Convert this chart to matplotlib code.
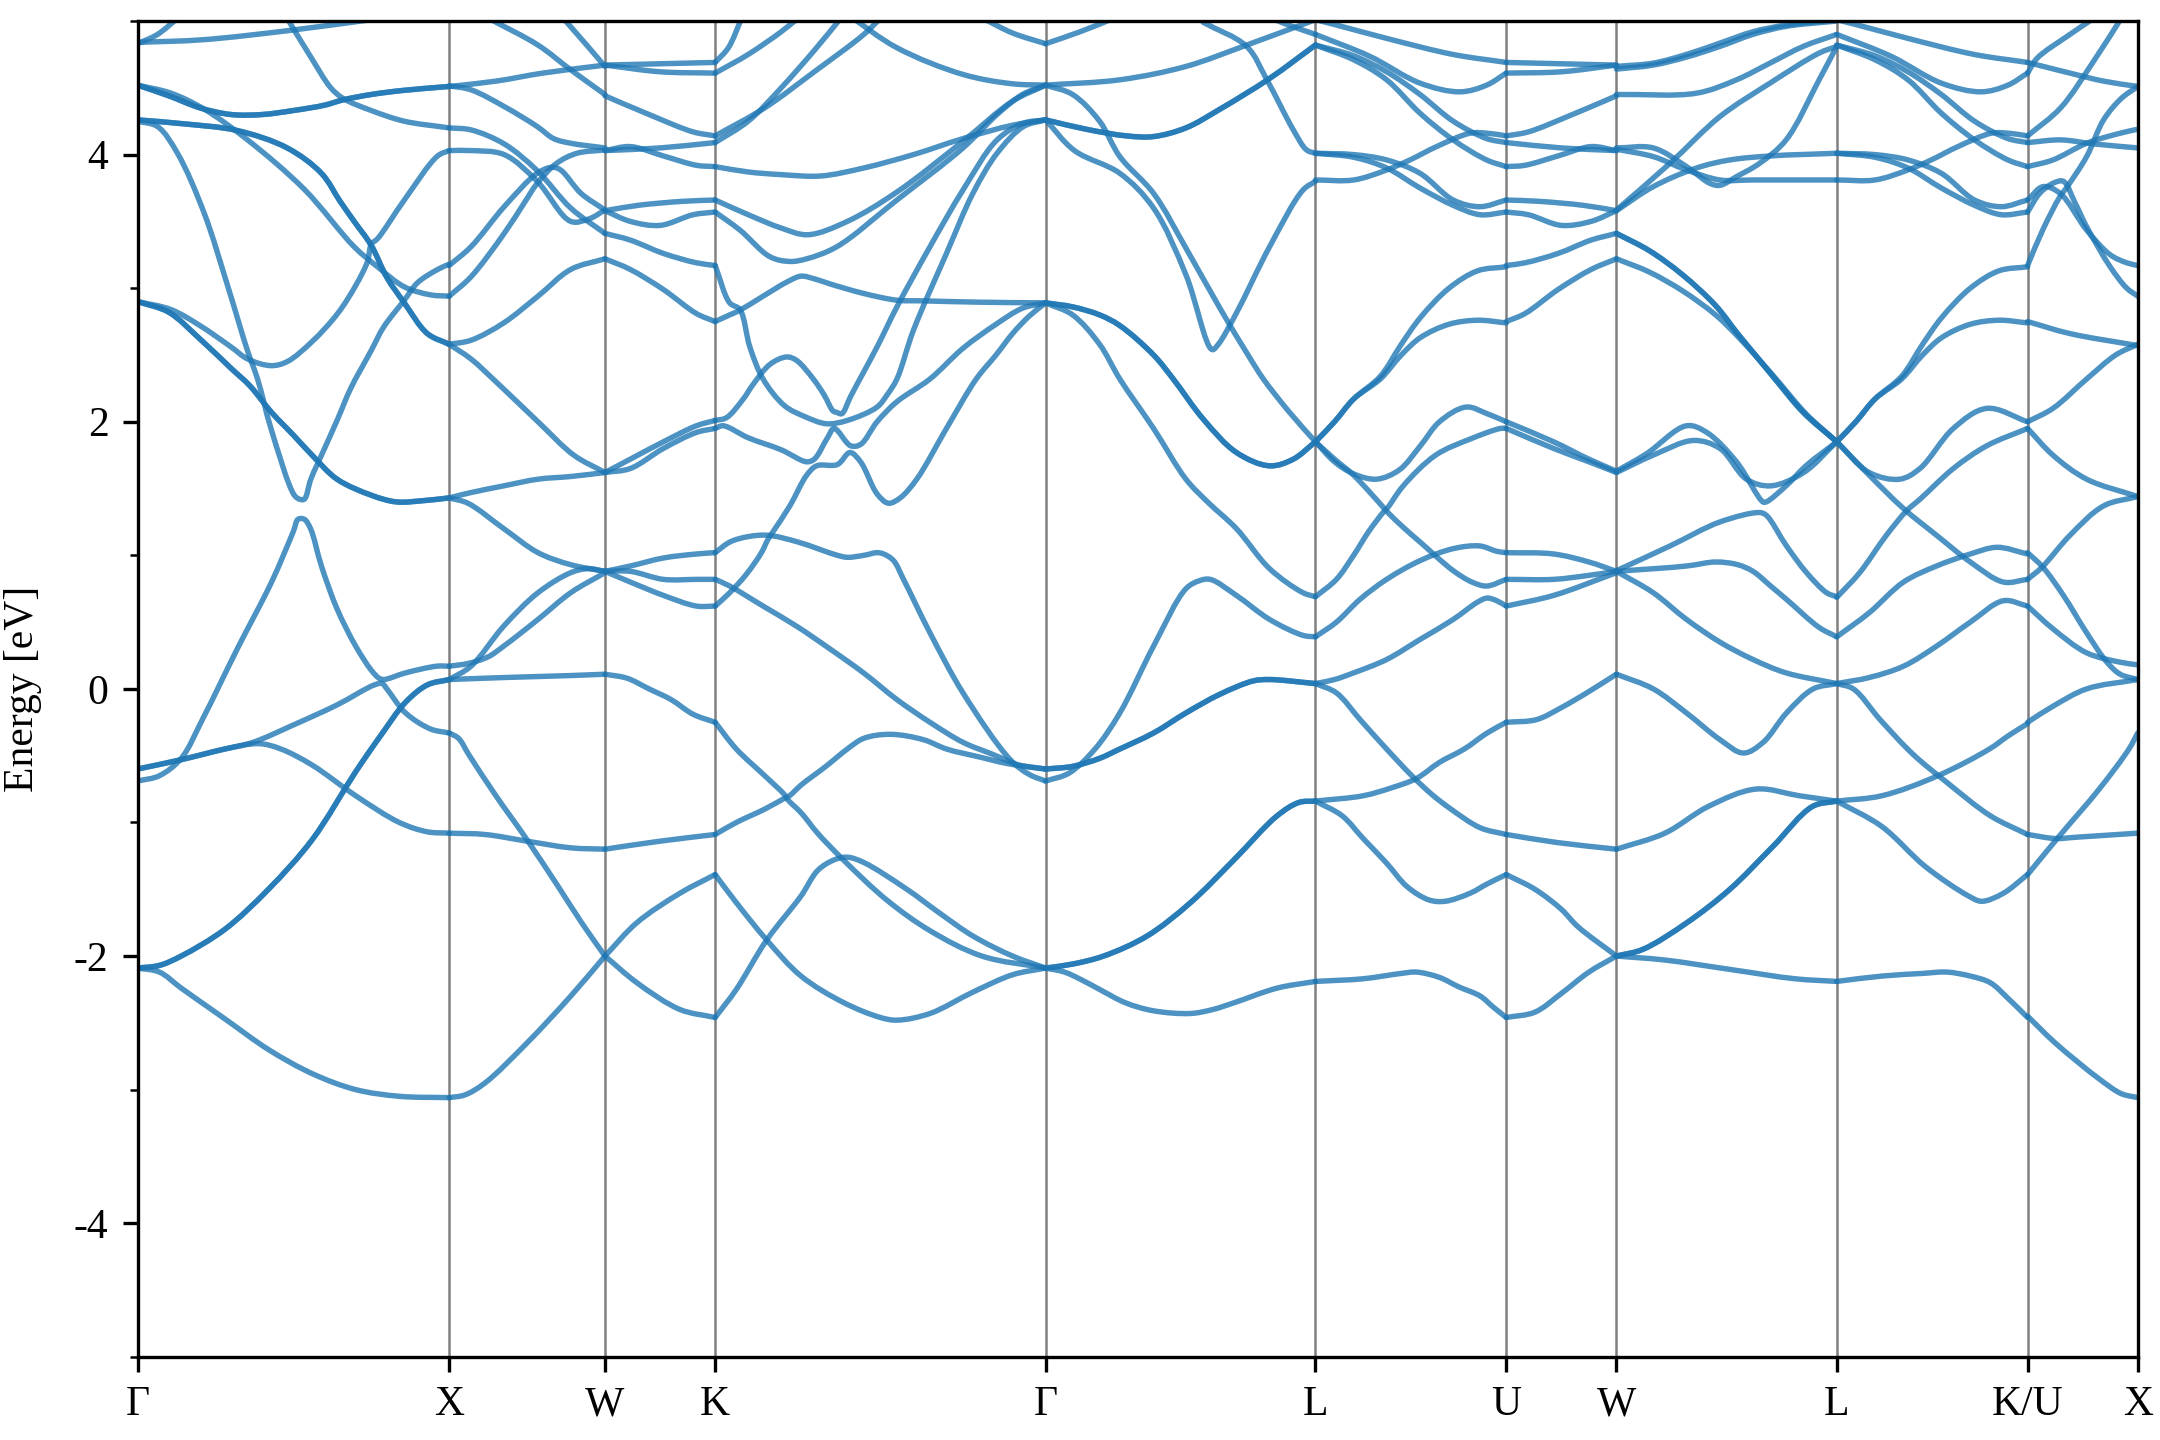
import math
import matplotlib
matplotlib.use('Agg')
import matplotlib.pyplot as plt
from matplotlib.path import Path
from matplotlib.patches import PathPatch
from matplotlib.ticker import MultipleLocator

# high-symmetry path (cumulative k-distance, 2pi/a units) and labels
k_labels = ['Γ', 'X', 'W', 'K', 'Γ', 'L', 'U', 'W', 'L', 'K/U', 'X']
k_ticks = [0.0, 1.0, 1.5, 1.8536, 2.9142, 3.7802, 4.3926, 4.7462, 5.4533, 6.0657, 6.4193]

# Each segment: list of (degeneracy, [(fraction along segment, energy eV), ...])
GX = [
    (1, [(0,-2.09),(0.07,-2.12),(0.14,-2.24),(0.28,-2.47),(0.42,-2.70),(0.56,-2.88),(0.70,-3.00),(0.84,-3.05),(1,-3.06)]),
    (2, [(0,-2.09),(0.07,-2.07),(0.14,-2.00),(0.28,-1.80),(0.42,-1.50),(0.56,-1.13),(0.70,-0.62),(0.78,-0.35),(0.86,-0.10),(0.93,0.03),(1,0.07)]),
    (1, [(0,-0.69),(0.07,-0.65),(0.14,-0.52),(0.21,-0.22),(0.32,0.30),(0.43,0.80),(0.50,1.18),(0.515,1.27),(0.535,1.27),(0.555,1.20),(0.59,0.92),(0.64,0.60),(0.70,0.32),(0.75,0.14),(0.775,0.08),(0.79,0.07),(0.86,0.12),(0.96,0.17),(1,0.17)]),
    (1, [(0,-0.60),(0.14,-0.53),(0.28,-0.45),(0.37,-0.40),(0.5,-0.27),(0.64,-0.12),(0.76,0.03),(0.785,0.04),(0.80,0.0),(0.86,-0.18),(0.94,-0.30),(1,-0.33)]),
    (1, [(0,-0.60),(0.14,-0.53),(0.28,-0.45),(0.39,-0.41),(0.46,-0.45),(0.56,-0.57),(0.70,-0.80),(0.84,-1.00),(0.93,-1.07),(1,-1.08)]),
    (2, [(0,2.90),(0.1,2.82),(0.2,2.62),(0.3,2.40),(0.36,2.27),(0.43,2.07),(0.50,1.90),(0.56,1.75),(0.64,1.57),(0.75,1.45),(0.83,1.40),(0.92,1.41),(1,1.43)]),
    (1, [(0,2.90),(0.107,2.84),(0.2,2.72),(0.30,2.56),(0.353,2.47),(0.428,2.42),(0.48,2.45),(0.56,2.60),(0.642,2.81),(0.70,3.02),(0.738,3.20),(0.75,3.33),(0.77,3.37),(0.856,3.66),(0.963,3.99),(1,4.03)]),
    (2, [(0,4.26),(0.15,4.23),(0.32,4.18),(0.48,4.05),(0.59,3.86),(0.65,3.65),(0.695,3.50),(0.75,3.32),(0.80,3.08),(0.856,2.89),(0.93,2.66),(1,2.58)]),
    (1, [(0,4.25),(0.064,4.21),(0.128,4.01),(0.214,3.56),(0.29,3.01),(0.353,2.53),(0.385,2.32),(0.428,1.95),(0.503,1.45),(0.52,1.42),(0.535,1.42),(0.556,1.57),(0.60,1.80),(0.642,2.02),(0.684,2.25),(0.749,2.53),(0.79,2.71),(0.856,2.91),(0.898,3.04),(0.963,3.14),(1,3.18)]),
    (1, [(0,4.52),(0.107,4.46),(0.214,4.34),(0.353,4.11),(0.535,3.74),(0.695,3.31),(0.77,3.16),(0.856,3.01),(0.94,2.95),(1,2.94)]),
    (2, [(0,4.52),(0.1,4.44),(0.2,4.35),(0.3,4.30),(0.4,4.30),(0.5,4.33),(0.60,4.37),(0.66,4.41),(0.75,4.45),(0.85,4.48),(1,4.51)]),
    (1, [(0,4.84),(0.21,4.86),(0.49,4.93),(0.75,5.01),(1,5.08)]),
    (1, [(0,4.83),(0.064,4.90),(0.128,5.02)]),
    (1, [(0.48,5.02),(0.556,4.73),(0.62,4.50),(0.66,4.42),(0.75,4.33),(0.856,4.25),(1,4.20)]),
]

XW = [
    (1, [(0,-3.06),(0.1,-3.04),(0.23,-2.95),(0.5,-2.65),(0.78,-2.30),(1,-2.0)]),
    (1, [(0,-0.33),(0.06,-0.37),(0.13,-0.50),(0.3,-0.80),(0.5,-1.13),(0.7,-1.48),(0.85,-1.75),(1,-2.0)]),
    (1, [(0,-1.08),(0.23,-1.09),(0.5,-1.14),(0.78,-1.19),(1,-1.20)]),
    (1, [(0,0.07),(0.35,0.085),(0.78,0.10),(1,0.11)]),
    (1, [(0,0.07),(0.14,0.17),(0.35,0.47),(0.57,0.72),(0.78,0.87),(0.89,0.90),(1,0.88)]),
    (1, [(0,0.17),(0.12,0.19),(0.25,0.24),(0.35,0.32),(0.57,0.52),(0.78,0.72),(1,0.87)]),
    (1, [(0,1.43),(0.14,1.47),(0.35,1.52),(0.57,1.57),(0.78,1.59),(1,1.62)]),
    (1, [(0,1.43),(0.12,1.39),(0.35,1.20),(0.57,1.02),(0.78,0.93),(1,0.88)]),
    (1, [(0,2.58),(0.14,2.47),(0.3,2.30),(0.57,2.00),(0.8,1.75),(1,1.62)]),
    (1, [(0,2.58),(0.14,2.61),(0.35,2.74),(0.57,2.94),(0.78,3.14),(1,3.22)]),
    (1, [(0,2.94),(0.14,3.085),(0.353,3.41),(0.48,3.635),(0.565,3.785),(0.69,3.935),(0.82,4.01),(1,4.035)]),
    (1, [(0,3.17),(0.14,3.31),(0.353,3.61),(0.565,3.86),(0.66,3.905),(0.715,3.885),(0.846,3.71),(1,3.585)]),
    (1, [(0,4.03),(0.14,4.03),(0.353,4.0),(0.565,3.80),(0.78,3.50),(0.9,3.52),(1,3.585)]),
    (1, [(0,4.20),(0.14,4.185),(0.353,4.08),(0.565,3.88),(0.78,3.60),(1,3.41)]),
    (1, [(0,4.515),(0.14,4.485),(0.353,4.36),(0.565,4.21),(0.67,4.12),(0.78,4.085),(1,4.05)]),
    (1, [(0,4.51),(0.3,4.55),(0.6,4.61),(1,4.67)]),
    (1, [(0.27,5.01),(0.57,4.82),(0.78,4.635),(1,4.45)]),
    (1, [(0.74,5.01),(0.89,4.81),(1,4.66)]),
]

WK = [
    (1, [(0,-2.0),(0.29,-1.75),(0.68,-1.53),(1,-1.39)]),
    (1, [(0,-2.0),(0.29,-2.20),(0.68,-2.40),(1,-2.46)]),
    (1, [(0,-1.20),(0.5,-1.14),(1,-1.09)]),
    (1, [(0,0.11),(0.2,0.08),(0.4,0.0),(0.6,-0.08),(0.8,-0.19),(1,-0.25)]),
    (1, [(0,0.88),(0.23,0.92),(0.53,0.98),(0.83,1.01),(1,1.02)]),
    (1, [(0,0.88),(0.23,0.88),(0.53,0.82),(0.83,0.82),(1,0.82)]),
    (1, [(0,0.88),(0.23,0.80),(0.53,0.70),(0.83,0.62),(1,0.62)]),
    (1, [(0,1.62),(0.23,1.72),(0.53,1.85),(0.83,1.97),(1,2.01)]),
    (1, [(0,1.62),(0.23,1.65),(0.53,1.80),(0.83,1.92),(1,1.95)]),
    (1, [(0,3.22),(0.23,3.14),(0.53,2.99),(0.83,2.81),(1,2.75)]),
    (1, [(0,3.41),(0.23,3.36),(0.53,3.26),(0.83,3.19),(1,3.17)]),
    (1, [(0,3.58),(0.23,3.50),(0.5,3.47),(0.8,3.55),(1,3.57)]),
    (1, [(0,3.58),(0.3,3.62),(0.7,3.65),(1,3.66)]),
    (1, [(0,4.03),(0.23,4.06),(0.53,3.99),(0.83,3.92),(1,3.91)]),
    (1, [(0,4.03),(0.5,4.05),(1,4.09)]),
    (1, [(0,4.44),(0.4,4.30),(0.8,4.17),(1,4.14)]),
    (1, [(0,4.67),(0.5,4.62),(1,4.61)]),
    (1, [(0,4.67),(0.5,4.68),(1,4.69)]),
]

KG = [
    (1, [(0,-1.39),(0.064,-1.60),(0.156,-1.88),(0.26,-2.15),(0.39,-2.35),(0.5,-2.46),(0.55,-2.48),(0.65,-2.43),(0.78,-2.27),(0.9,-2.14),(1,-2.09)]),
    (1, [(0,-2.46),(0.064,-2.25),(0.156,-1.88),(0.26,-1.55),(0.31,-1.36),(0.36,-1.28),(0.40,-1.26),(0.45,-1.30),(0.58,-1.50),(0.68,-1.68),(0.78,-1.85),(0.9,-2.0),(1,-2.09)]),
    (1, [(0,-1.09),(0.064,-1.0),(0.15,-0.90),(0.209,-0.82),(0.225,-0.80),(0.26,-0.72),(0.335,-0.58),(0.40,-0.45),(0.45,-0.37),(0.53,-0.34),(0.63,-0.38),(0.70,-0.45),(0.80,-0.51),(0.886,-0.56),(1,-0.60)]),
    (1, [(0,-0.25),(0.064,-0.45),(0.15,-0.65),(0.209,-0.79),(0.22,-0.83),(0.261,-0.93),(0.31,-1.08),(0.388,-1.28),(0.519,-1.58),(0.65,-1.81),(0.807,-2.0),(1,-2.09)]),
    (1, [(0,0.82),(0.044,0.77),(0.145,0.62),(0.246,0.47),(0.347,0.30),(0.449,0.12),(0.55,-0.08),(0.65,-0.25),(0.75,-0.40),(0.84,-0.49),(0.92,-0.57),(1,-0.60)]),
    (1, [(0,1.02),(0.045,1.10),(0.10,1.14),(0.16,1.15),(0.25,1.10),(0.37,1.00),(0.40,0.985),(0.45,1.00),(0.49,1.02),(0.51,1.01),(0.54,0.96),(0.57,0.82),(0.65,0.42),(0.75,-0.03),(0.893,-0.53),(0.95,-0.64),(1,-0.69)]),
    (1, [(0,0.62),(0.044,0.72),(0.095,0.86),(0.14,1.02),(0.16,1.12),(0.176,1.18),(0.226,1.37),(0.277,1.60),(0.307,1.67),(0.37,1.68),(0.408,1.77),(0.44,1.70),(0.49,1.46),(0.524,1.39),(0.56,1.43),(0.61,1.57),(0.70,1.95),(0.79,2.32),(0.85,2.50),(0.9,2.66),(0.95,2.79),(1,2.89)]),
    (1, [(0,1.95),(0.024,1.97),(0.1,1.88),(0.2,1.79),(0.277,1.70),(0.30,1.72),(0.34,1.88),(0.36,1.95),(0.41,1.82),(0.44,1.83),(0.49,2.0),(0.55,2.15),(0.65,2.32),(0.75,2.55),(0.85,2.73),(0.93,2.85),(1,2.89)]),
    (1, [(0,2.01),(0.034,2.03),(0.085,2.17),(0.115,2.28),(0.166,2.43),(0.216,2.485),(0.246,2.46),(0.297,2.32),(0.33,2.20),(0.357,2.08),(0.368,2.07),(0.383,2.06),(0.41,2.19),(0.438,2.32),(0.49,2.56),(0.55,2.86),(0.65,3.31),(0.75,3.735),(0.853,4.11),(0.933,4.235),(1,4.26)]),
    (1, [(0,2.75),(0.044,2.80),(0.075,2.835),(0.145,2.94),(0.22,3.05),(0.26,3.09),(0.30,3.07),(0.35,3.03),(0.45,2.96),(0.55,2.91),(0.63,2.905),(0.8,2.895),(1,2.89)]),
    (1, [(0,3.17),(0.044,2.89),(0.075,2.84),(0.105,2.56),(0.145,2.32),(0.21,2.12),(0.27,2.04),(0.337,1.985),(0.40,2.01),(0.49,2.11),(0.52,2.20),(0.55,2.32),(0.60,2.685),(0.70,3.26),(0.78,3.71),(0.853,4.01),(0.933,4.21),(1,4.26)]),
    (1, [(0,3.57),(0.075,3.435),(0.166,3.235),(0.226,3.20),(0.277,3.22),(0.368,3.31),(0.55,3.66),(0.75,4.05),(0.853,4.30),(0.93,4.45),(1,4.52)]),
    (1, [(0,3.91),(0.1,3.87),(0.2,3.85),(0.32,3.84),(0.45,3.90),(0.6,4.0),(0.75,4.12),(0.9,4.22),(1,4.26)]),
    (1, [(0,3.66),(0.1,3.55),(0.2,3.45),(0.28,3.40),(0.4,3.50),(0.55,3.72),(0.75,4.10),(0.9,4.40),(1,4.52)]),
    (1, [(0,4.09),(0.1,4.25),(0.2,4.5),(0.3,4.78),(0.38,5.02)]),
    (1, [(0,4.14),(0.15,4.35),(0.3,4.62),(0.45,4.9),(0.5,5.02)]),
    (1, [(0,4.61),(0.1,4.75),(0.2,4.92),(0.25,5.02)]),
    (1, [(0,4.69),(0.04,4.80),(0.08,5.02)]),
    (1, [(0.4,5.05),(0.55,4.80),(0.75,4.60),(0.9,4.53),(1,4.52)]),
    (1, [(0.81,5.02),(0.9,4.91),(1,4.83)]),
]

GL = [
    (1, [(0,-2.09),(0.07,-2.12),(0.135,-2.18),(0.2,-2.25),(0.296,-2.35),(0.4,-2.41),(0.537,-2.43),(0.62,-2.40),(0.698,-2.35),(0.858,-2.24),(1,-2.19)]),
    (2, [(0,-2.09),(0.1,-2.06),(0.215,-2.0),(0.376,-1.85),(0.537,-1.60),(0.698,-1.28),(0.858,-0.95),(0.939,-0.85),(1,-0.84)]),
    (2, [(0,-0.60),(0.1,-0.58),(0.2,-0.52),(0.275,-0.45),(0.40,-0.33),(0.52,-0.18),(0.646,-0.04),(0.77,0.06),(0.83,0.07),(1,0.04)]),
    (1, [(0,-0.69),(0.087,-0.63),(0.183,-0.45),(0.275,-0.18),(0.40,0.32),(0.52,0.75),(0.57,0.81),(0.61,0.82),(0.707,0.70),(0.83,0.52),(0.955,0.40),(1,0.39)]),
    (2, [(0,2.89),(0.1,2.86),(0.2,2.80),(0.275,2.72),(0.40,2.50),(0.473,2.32),(0.584,2.02),(0.707,1.77),(0.83,1.67),(0.918,1.72),(1,1.85)]),
    (1, [(0,2.89),(0.1,2.80),(0.2,2.58),(0.275,2.32),(0.40,1.95),(0.52,1.57),(0.60,1.40),(0.707,1.20),(0.83,0.90),(0.954,0.72),(1,0.69)]),
    (2, [(0,4.26),(0.15,4.19),(0.3,4.14),(0.4,4.135),(0.52,4.20),(0.646,4.34),(0.83,4.57),(1,4.82)]),
    (1, [(0,4.26),(0.107,4.03),(0.275,3.86),(0.40,3.60),(0.52,3.10),(0.617,2.54),(0.64,2.58),(0.706,2.81),(0.83,3.31),(0.954,3.735),(1,3.80)]),
    (1, [(0,4.52),(0.1,4.45),(0.2,4.25),(0.275,3.985),(0.40,3.71),(0.52,3.30),(0.646,2.85),(0.75,2.50),(0.807,2.32),(0.9,2.08),(1,1.85)]),
    (1, [(0,4.52),(0.275,4.56),(0.52,4.66),(0.745,4.82),(1,5.01)]),
    (1, [(0.584,4.99),(0.745,4.81),(0.82,4.56),(0.918,4.185),(0.967,4.035),(1,4.01)]),
    (1, [(0.8,5.05),(0.9,4.97),(1,4.90)]),
    (1, [(0,4.83),(0.128,4.92),(0.24,5.01),(0.3,5.06)]),
]

LU = [
    (1, [(0,-2.19),(0.25,-2.17),(0.45,-2.13),(0.53,-2.12),(0.65,-2.16),(0.75,-2.23),(0.864,-2.30),(0.93,-2.38),(1,-2.46)]),
    (1, [(0,-0.84),(0.14,-0.95),(0.25,-1.12),(0.37,-1.30),(0.48,-1.48),(0.595,-1.58),(0.68,-1.59),(0.81,-1.53),(0.9,-1.46),(1,-1.39)]),
    (1, [(0,-0.84),(0.25,-0.80),(0.40,-0.74),(0.53,-0.67),(0.65,-0.55),(0.78,-0.45),(0.9,-0.33),(1,-0.25)]),
    (1, [(0,0.04),(0.11,-0.03),(0.234,-0.23),(0.36,-0.43),(0.505,-0.65),(0.61,-0.79),(0.71,-0.90),(0.864,-1.04),(1,-1.09)]),
    (1, [(0,0.04),(0.1,0.07),(0.2,0.12),(0.373,0.22),(0.548,0.37),(0.722,0.52),(0.85,0.65),(0.90,0.68),(0.95,0.66),(1,0.62)]),
    (1, [(0,0.39),(0.11,0.50),(0.233,0.67),(0.373,0.82),(0.548,0.96),(0.722,1.05),(0.862,1.07),(0.95,1.03),(1,1.02)]),
    (1, [(0,0.69),(0.11,0.82),(0.2,1.0),(0.28,1.18),(0.36,1.33),(0.375,1.35),(0.46,1.52),(0.63,1.75),(0.81,1.87),(0.97,1.95),(1,1.95)]),
    (1, [(0,1.85),(0.1,1.72),(0.2,1.60),(0.355,1.36),(0.373,1.33),(0.46,1.21),(0.548,1.10),(0.722,0.885),(0.82,0.80),(0.897,0.77),(1,0.82)]),
    (1, [(0,1.85),(0.1,1.70),(0.2,1.61),(0.32,1.57),(0.44,1.64),(0.55,1.82),(0.65,2.0),(0.79,2.11),(0.9,2.06),(1,2.0)]),
    (1, [(0,1.85),(0.1,2.0),(0.2,2.17),(0.34,2.32),(0.45,2.50),(0.55,2.63),(0.7,2.73),(0.85,2.76),(1,2.74)]),
    (1, [(0,1.85),(0.1,2.0),(0.2,2.17),(0.34,2.34),(0.45,2.58),(0.55,2.78),(0.7,3.0),(0.85,3.13),(1,3.16)]),
    (1, [(0,3.81),(0.2,3.81),(0.373,3.885),(0.495,3.96),(0.635,4.06),(0.81,4.16),(0.9,4.16),(1,4.14)]),
    (1, [(0,4.01),(0.2,4.0),(0.373,3.96),(0.548,3.86),(0.722,3.66),(0.862,3.61),(1,3.66)]),
    (1, [(0,4.01),(0.2,3.98),(0.373,3.90),(0.548,3.75),(0.722,3.62),(0.862,3.55),(1,3.57)]),
    (1, [(0,4.82),(0.2,4.71),(0.373,4.56),(0.548,4.31),(0.722,4.11),(0.897,3.96),(1,3.91)]),
    (1, [(0,4.82),(0.2,4.74),(0.373,4.62),(0.548,4.45),(0.722,4.25),(0.897,4.12),(1,4.09)]),
    (1, [(0,4.90),(0.286,4.735),(0.548,4.535),(0.757,4.47),(0.897,4.52),(1,4.61)]),
    (1, [(0,5.01),(0.11,4.97),(0.373,4.87),(0.72,4.75),(1,4.69)]),
]

UW = [
    (1, [(0,-2.46),(0.26,-2.42),(0.5,-2.28),(0.75,-2.12),(1,-2.0)]),
    (1, [(0,-1.39),(0.26,-1.50),(0.5,-1.65),(0.65,-1.78),(1,-2.0)]),
    (1, [(0,-1.09),(0.46,-1.15),(1,-1.20)]),
    (1, [(0,-0.25),(0.275,-0.23),(0.5,-0.14),(0.73,-0.03),(1,0.11)]),
    (1, [(0,0.62),(0.43,0.70),(1,0.87)]),
    (1, [(0,0.82),(0.43,0.82),(0.75,0.85),(1,0.88)]),
    (1, [(0,1.02),(0.43,1.01),(0.75,0.95),(1,0.88)]),
    (1, [(0,1.95),(0.43,1.80),(0.75,1.70),(1,1.62)]),
    (1, [(0,2.0),(0.43,1.85),(0.75,1.72),(1,1.63)]),
    (1, [(0,2.75),(0.17,2.81),(0.47,2.99),(0.77,3.14),(1,3.22)]),
    (1, [(0,3.17),(0.17,3.19),(0.47,3.26),(0.77,3.36),(1,3.41)]),
    (1, [(0,3.57),(0.2,3.55),(0.5,3.47),(0.77,3.50),(1,3.58)]),
    (1, [(0,3.66),(0.3,3.65),(0.7,3.62),(1,3.58)]),
    (1, [(0,3.91),(0.17,3.92),(0.47,3.99),(0.77,4.06),(1,4.03)]),
    (1, [(0,4.09),(0.5,4.05),(1,4.03)]),
    (1, [(0,4.14),(0.2,4.17),(0.6,4.30),(1,4.44)]),
    (1, [(0,4.61),(0.5,4.62),(1,4.67)]),
    (1, [(0,4.69),(0.5,4.68),(1,4.67)]),
]

WL = [
    (1, [(0,-2.0),(0.22,-2.03),(0.515,-2.10),(0.81,-2.17),(1,-2.19)]),
    (2, [(0,-2.0),(0.12,-1.95),(0.32,-1.75),(0.515,-1.50),(0.71,-1.18),(0.89,-0.88),(1,-0.84)]),
    (1, [(0,-1.20),(0.22,-1.08),(0.417,-0.88),(0.633,-0.75),(0.83,-0.80),(1,-0.84)]),
    (1, [(0,0.11),(0.167,0.0),(0.318,-0.18),(0.47,-0.38),(0.576,-0.48),(0.666,-0.40),(0.772,-0.18),(0.893,0.0),(1,0.04)]),
    (1, [(0,0.88),(0.167,0.72),(0.318,0.52),(0.47,0.35),(0.62,0.22),(0.77,0.12),(1,0.04)]),
    (1, [(0,0.88),(0.318,0.92),(0.45,0.95),(0.55,0.93),(0.62,0.88),(0.70,0.77),(0.772,0.67),(0.92,0.46),(1,0.39)]),
    (1, [(0,0.885),(0.243,1.07),(0.47,1.25),(0.65,1.32),(0.68,1.30),(0.772,1.07),(0.863,0.87),(0.954,0.72),(1,0.69)]),
    (1, [(0,1.63),(0.136,1.76),(0.318,1.97),(0.41,1.92),(0.545,1.70),(0.665,1.40),(0.68,1.40),(0.77,1.52),(0.86,1.67),(1,1.85)]),
    (1, [(0,1.62),(0.167,1.75),(0.35,1.86),(0.47,1.80),(0.59,1.57),(0.70,1.52),(0.85,1.62),(1,1.85)]),
    (1, [(0,4.66),(0.167,4.685),(0.318,4.75),(0.47,4.835),(0.62,4.92),(0.77,4.97),(1,5.01)]),
    (1, [(0,4.64),(0.167,4.67),(0.318,4.73),(0.47,4.81),(0.62,4.90),(0.77,4.96),(1,5.0)]),
    (1, [(0,4.45),(0.364,4.46),(0.545,4.56),(0.697,4.685),(0.848,4.81),(1,4.90)]),
    (1, [(0,3.58),(0.167,3.76),(0.364,3.90),(0.515,3.96),(0.7,3.99),(1,4.01)]),
    (1, [(0,4.05),(0.167,4.05),(0.318,3.91),(0.424,3.785),(0.47,3.77),(0.545,3.835),(0.65,3.935),(0.77,4.11),(0.92,4.56),(1,4.81)]),
    (1, [(0,3.585),(0.243,3.935),(0.47,4.285),(0.697,4.535),(0.92,4.76),(1,4.81)]),
    (1, [(0,4.04),(0.167,3.985),(0.318,3.885),(0.47,3.81),(0.62,3.81),(1,3.81)]),
    (2, [(0,3.41),(0.15,3.28),(0.3,3.10),(0.45,2.87),(0.55,2.66),(0.64,2.48),(0.72,2.32),(0.848,2.07),(1,1.85)]),
    (1, [(0,3.22),(0.15,3.12),(0.3,2.98),(0.45,2.80),(0.55,2.64),(0.65,2.46),(0.73,2.31),(0.86,2.06),(1,1.85)]),
]

LK = [
    (1, [(0,-2.19),(0.236,-2.15),(0.45,-2.13),(0.577,-2.12),(0.7,-2.15),(0.805,-2.20),(0.9,-2.32),(1,-2.46)]),
    (1, [(0,-0.84),(0.236,-1.03),(0.464,-1.33),(0.69,-1.55),(0.76,-1.59),(0.873,-1.53),(1,-1.39)]),
    (1, [(0,-0.84),(0.236,-0.80),(0.53,-0.65),(0.80,-0.45),(0.9,-0.35),(1,-0.26)]),
    (1, [(0,0.04),(0.087,0.0),(0.227,-0.23),(0.40,-0.49),(0.577,-0.70),(0.805,-0.95),(1,-1.09)]),
    (1, [(0,0.04),(0.17,0.085),(0.35,0.17),(0.523,0.32),(0.70,0.50),(0.873,0.66),(1,0.62)]),
    (1, [(0,0.39),(0.17,0.57),(0.35,0.80),(0.523,0.92),(0.70,1.01),(0.84,1.06),(1,1.01)]),
    (1, [(0,0.685),(0.12,0.87),(0.26,1.15),(0.367,1.335),(0.436,1.42),(0.611,1.65),(0.786,1.82),(1,1.95)]),
    (1, [(0,1.85),(0.17,1.60),(0.35,1.35),(0.523,1.15),(0.70,0.95),(0.873,0.80),(1,0.82)]),
    (1, [(0,1.85),(0.17,1.62),(0.33,1.57),(0.436,1.65),(0.611,1.95),(0.786,2.10),(1,2.0)]),
    (1, [(0,1.85),(0.1,2.0),(0.2,2.17),(0.34,2.32),(0.45,2.50),(0.55,2.63),(0.7,2.73),(0.85,2.76),(1,2.74)]),
    (1, [(0,1.85),(0.1,2.0),(0.2,2.17),(0.34,2.34),(0.45,2.58),(0.55,2.78),(0.7,3.0),(0.85,3.13),(1,3.16)]),
    (1, [(0,3.81),(0.2,3.81),(0.373,3.885),(0.495,3.96),(0.635,4.06),(0.81,4.16),(0.9,4.16),(1,4.14)]),
    (1, [(0,4.01),(0.2,4.0),(0.373,3.96),(0.548,3.86),(0.722,3.66),(0.862,3.61),(1,3.66)]),
    (1, [(0,4.01),(0.2,3.98),(0.373,3.90),(0.548,3.75),(0.722,3.62),(0.862,3.55),(1,3.57)]),
    (1, [(0,4.82),(0.2,4.71),(0.373,4.56),(0.548,4.31),(0.722,4.11),(0.897,3.96),(1,3.91)]),
    (1, [(0,4.82),(0.2,4.74),(0.373,4.62),(0.548,4.45),(0.722,4.25),(0.897,4.12),(1,4.09)]),
    (1, [(0,4.90),(0.286,4.735),(0.548,4.535),(0.757,4.47),(0.897,4.52),(1,4.61)]),
    (1, [(0,5.01),(0.11,4.97),(0.373,4.87),(0.72,4.75),(1,4.69)]),
]

UX = [
    (1, [(0,-2.45),(0.25,-2.65),(0.65,-2.92),(0.85,-3.03),(1,-3.06)]),
    (1, [(0,-1.39),(0.29,-1.10),(0.65,-0.75),(0.92,-0.45),(1,-0.33)]),
    (1, [(0,-1.09),(0.25,-1.12),(0.45,-1.11),(1,-1.08)]),
    (1, [(0,-0.25),(0.23,-0.13),(0.536,0.0),(1,0.07)]),
    (1, [(0,0.62),(0.23,0.45),(0.536,0.27),(0.84,0.20),(1,0.18)]),
    (1, [(0,0.82),(0.13,0.91),(0.385,1.15),(0.69,1.37),(1,1.44)]),
    (1, [(0,1.02),(0.14,0.91),(0.325,0.70),(0.536,0.42),(0.72,0.20),(0.84,0.11),(1,0.07)]),
    (1, [(0,1.95),(0.23,1.75),(0.536,1.57),(1,1.44)]),
    (1, [(0,2.0),(0.23,2.10),(0.536,2.32),(0.8,2.50),(1,2.58)]),
    (1, [(0,2.75),(0.385,2.66),(1,2.57)]),
    (1, [(0,3.17),(0.14,3.44),(0.29,3.68),(0.36,3.76),(0.536,3.985),(0.69,4.26),(0.85,4.42),(1,4.51)]),
    (1, [(0,3.57),(0.11,3.71),(0.23,3.785),(0.325,3.80),(0.43,3.64),(0.536,3.46),(0.75,3.16),(0.9,3.0),(1,2.94)]),
    (1, [(0,3.66),(0.14,3.76),(0.295,3.71),(0.536,3.435),(0.75,3.25),(0.9,3.19),(1,3.17)]),
    (1, [(0,3.91),(0.23,3.96),(0.536,4.085),(0.84,4.16),(1,4.19)]),
    (1, [(0,4.09),(0.3,4.11),(0.6,4.08),(1,4.05)]),
    (1, [(0,4.14),(0.3,4.35),(0.6,4.70),(0.85,5.02)]),
    (1, [(0,4.69),(0.385,4.61),(0.69,4.55),(1,4.51)]),
    (1, [(0,4.61),(0.085,4.72),(0.385,4.90),(0.6,5.02)]),
]

segments = [GX, XW, WK, KG, GL, LU, UW, WL, LK, UX]

plt.rcParams['font.family'] = ['Liberation Serif', 'DejaVu Serif']
plt.rcParams['font.size'] = 10
plt.rcParams['axes.unicode_minus'] = False

fig = plt.figure(figsize=(7.2, 4.8), dpi=300)
ax = fig.add_axes([0.0637, 0.0578, 0.9260, 0.9276])

# approximate pixel scale of the axes, used only for a smooth curve through the read points
SX, SY = 311.6, 133.4


def smooth_path(xs, ys):
    P = [(x * SX, y * SY) for x, y in zip(xs, ys)]
    n = len(P)
    if n < 3:
        verts = [(x, y) for x, y in zip(xs, ys)]
        return Path(verts, [Path.MOVETO] + [Path.LINETO] * (n - 1))
    kn = [0.0]
    for i in range(1, n):
        d = math.hypot(P[i][0] - P[i - 1][0], P[i][1] - P[i - 1][1])
        kn.append(kn[-1] + max(d, 1e-6) ** 0.5)
    tang = []
    for i in range(n):
        if i == 0:
            dt = kn[1] - kn[0]
            tang.append(((P[1][0] - P[0][0]) / dt, (P[1][1] - P[0][1]) / dt))
        elif i == n - 1:
            dt = kn[-1] - kn[-2]
            tang.append(((P[-1][0] - P[-2][0]) / dt, (P[-1][1] - P[-2][1]) / dt))
        else:
            a = kn[i] - kn[i - 1]
            b = kn[i + 1] - kn[i - 1]
            c = kn[i + 1] - kn[i]
            tang.append(tuple((P[i][j] - P[i - 1][j]) / a - (P[i + 1][j] - P[i - 1][j]) / b
                              + (P[i + 1][j] - P[i][j]) / c for j in range(2)))
    verts = [P[0]]
    codes = [Path.MOVETO]
    for i in range(n - 1):
        d = kn[i + 1] - kn[i]
        b1 = (P[i][0] + tang[i][0] * d / 3, P[i][1] + tang[i][1] * d / 3)
        b2 = (P[i + 1][0] - tang[i + 1][0] * d / 3, P[i + 1][1] - tang[i + 1][1] * d / 3)
        verts += [b1, b2, P[i + 1]]
        codes += [Path.CURVE4] * 3
    verts = [(vx / SX, vy / SY) for vx, vy in verts]
    return Path(verts, codes)


for xk in k_ticks[1:-1]:
    ax.axvline(xk, color='grey', lw=0.6, zorder=1)

for i, seg in enumerate(segments):
    k0, k1 = k_ticks[i], k_ticks[i + 1]
    for deg, pts in seg:
        xs = [k0 + t * (k1 - k0) for t, _ in pts]
        es = [e for _, e in pts]
        path = smooth_path(xs, es)
        for _ in range(deg):
            ax.add_patch(PathPatch(path, fill=False, edgecolor='#1f77b4', alpha=0.8,
                                   lw=1.3, capstyle='round', joinstyle='round', zorder=2))

ax.set_xlim(k_ticks[0], k_ticks[-1])
ax.set_ylim(-5, 5)
ax.set_xticks(k_ticks)
ax.set_xticklabels(k_labels)
ax.set_yticks([-4, -2, 0, 2, 4])
ax.yaxis.set_minor_locator(MultipleLocator(1))
ax.tick_params(which='both', direction='out', top=False, right=False)
ax.set_ylabel('Energy [eV]')
ax.yaxis.set_label_coords(-0.048, 0.5)

fig.savefig('out.png', dpi=300)
